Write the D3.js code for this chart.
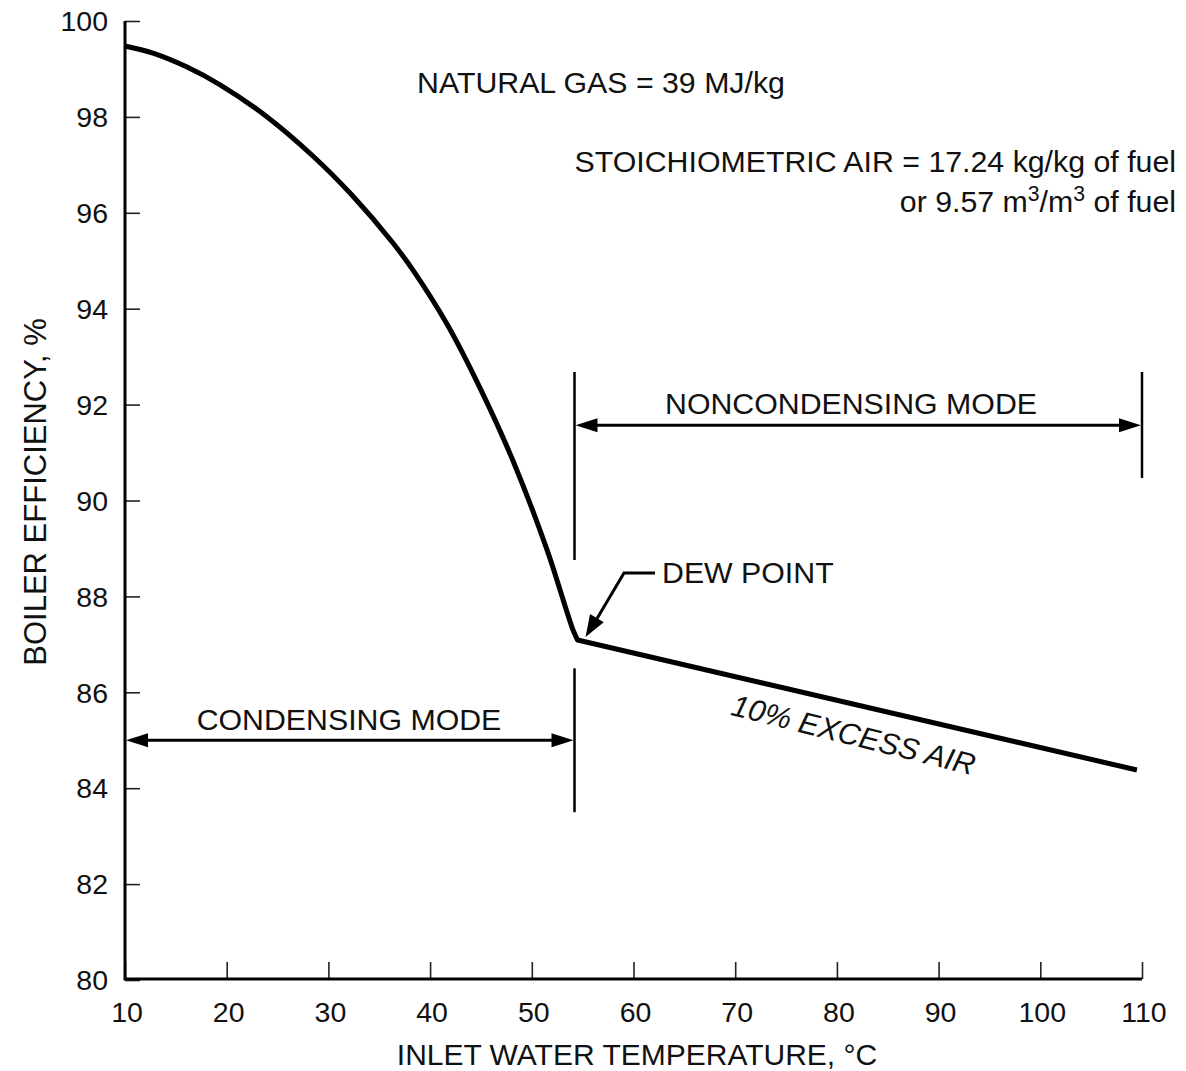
<!DOCTYPE html>
<html>
<head>
<meta charset="utf-8">
<script src="https://cdn.jsdelivr.net/npm/d3@7"></script>
<style>
  body { margin: 0; background: #fff; }
  svg { display: block; }
  text { font-family: "Liberation Sans", Arial, Helvetica, sans-serif; fill: #111; }
</style>
</head>
<body>
<div id="chart"></div>
<script>
// ---- data ----
const xTicks = [10, 20, 30, 40, 50, 60, 70, 80, 90, 100, 110];
const yTicks = [80, 82, 84, 86, 88, 90, 92, 94, 96, 98, 100];

// condensing branch (inlet water temperature °C, efficiency %)
const condTemp = [10, 12.75, 16.1, 19.35, 23.6, 28.5, 32.4, 36.35, 38.3, 41.66, 44.9, 48.15, 51.5, 54.05, 54.5];
const condEff  = [99.48, 99.33, 99.04, 98.67, 98.06, 97.18, 96.35, 95.37, 94.81, 93.68, 92.35, 90.83, 88.97, 87.3, 87.09];
// noncondensing branch
const noncondTemp = [54.5, 109.5];
const noncondEff  = [87.09, 84.38];

const dewPoint = [54.5, 87.09];
const modeSplit = 54.2;
const xMax = 110;

// ---- layout ----
const W = 1186, H = 1071;
const x0 = 125, x1 = 1142, yTop = 21, yBot = 980;
const FS = 28.5;   // tick labels
const FA = 30.3;   // annotations

const svg = d3.select("#chart").append("svg").attr("width", W).attr("height", H);

const x = d3.scaleLinear().domain([10, 110]).range([x0, x1]);
const y = d3.scaleLinear().domain([80, 100]).range([yBot, yTop]);

// axes
const yAxis = d3.axisRight(y).tickValues(yTicks).tickSize(15).tickSizeOuter(0).tickFormat("");
const gy = svg.append("g").attr("transform", `translate(${x0},0)`).call(yAxis);
const xAxis = d3.axisTop(x).tickValues(xTicks).tickSize(17).tickSizeOuter(0).tickFormat("");
const gx = svg.append("g").attr("transform", `translate(0,${yBot - 1})`).call(xAxis);
[gx, gy].forEach(g => {
  g.select(".domain").remove();
  g.selectAll(".tick line").attr("stroke", "#222").attr("stroke-width", 1.6);
});
// axis lines
svg.append("path")
  .attr("d", `M${x0},${yTop}V${yBot - 1}H${x1}`)
  .attr("fill", "none").attr("stroke", "#000").attr("stroke-width", 3);

// tick labels
svg.append("g").selectAll("text").data(yTicks).join("text")
  .attr("x", 108).attr("y", d => y(d)).attr("dy", "0.36em")
  .attr("text-anchor", "end").attr("font-size", FS).text(d => d);
svg.append("g").selectAll("text").data(xTicks).join("text")
  .attr("x", d => x(d) + 2).attr("y", 1022)
  .attr("text-anchor", "middle").attr("font-size", FS).text(d => d);

// axis titles
svg.append("text").attr("transform", `translate(46,492) rotate(-90)`)
  .attr("text-anchor", "middle").attr("font-size", 31).text("BOILER EFFICIENCY, %");
svg.append("text").attr("x", 637).attr("y", 1065)
  .attr("text-anchor", "middle").attr("font-size", 30).text("INLET WATER TEMPERATURE, °C");

// curves
const condData = condTemp.map((t, i) => [t, condEff[i]]);
const noncondData = noncondTemp.map((t, i) => [t, noncondEff[i]]);
const lineCurve = d3.line().x(d => x(d[0])).y(d => y(d[1])).curve(d3.curveCatmullRom.alpha(0.5));
const lineStraight = d3.line().x(d => x(d[0])).y(d => y(d[1]));
svg.append("path")
  .attr("d", lineCurve(condData) + lineStraight(noncondData).replace(/^M[^L]*/, ""))
  .attr("fill", "none").attr("stroke", "#000").attr("stroke-width", 5)
  .attr("stroke-linejoin", "round");

// arrow helpers
function arrowHead(tipX, tipY, ang, len = 22, half = 7) {
  const c = Math.cos(ang), s = Math.sin(ang);
  const bx = tipX - c * len, by = tipY - s * len;
  return `M${tipX},${tipY}L${bx - s * half},${by + c * half}L${bx + s * half},${by - c * half}Z`;
}
function dimArrow(xa, xb, yv) {
  const py = y(yv);
  svg.append("line").attr("x1", x(xa) + 10).attr("x2", x(xb) - 10).attr("y1", py).attr("y2", py)
    .attr("stroke", "#000").attr("stroke-width", 3);
  svg.append("path").attr("d", arrowHead(x(xa) + 1, py, Math.PI)).attr("fill", "#000");
  svg.append("path").attr("d", arrowHead(x(xb) - 1, py, 0)).attr("fill", "#000");
}
function vline(xv, ya, yb) {
  svg.append("line").attr("x1", x(xv)).attr("x2", x(xv)).attr("y1", y(ya)).attr("y2", y(yb))
    .attr("stroke", "#000").attr("stroke-width", 2.5);
}

// mode separators
vline(modeSplit, 92.68, 88.76);
vline(modeSplit, 86.5, 83.5);
vline(xMax, 92.68, 90.47);

dimArrow(modeSplit, xMax, 91.57);
dimArrow(10, modeSplit, 85.0);

svg.append("text").attr("x", 851).attr("y", 414).attr("text-anchor", "middle")
  .attr("font-size", FA).text("NONCONDENSING MODE");
svg.append("text").attr("x", 349).attr("y", 730).attr("text-anchor", "middle")
  .attr("font-size", FA).text("CONDENSING MODE");

// dew point leader
const tipX = x(dewPoint[0]) + 8, tipY = y(dewPoint[1]) - 3;
const elbowX = 624, elbowY = 573;
svg.append("path").attr("d", `M655,${elbowY}H${elbowX}L${tipX + 10},${tipY - 16}`)
  .attr("fill", "none").attr("stroke", "#000").attr("stroke-width", 3);
const ang = Math.atan2(tipY - elbowY, tipX - elbowX);
svg.append("path").attr("d", arrowHead(tipX, tipY, ang, 22, 8)).attr("fill", "#000");
svg.append("text").attr("x", 662).attr("y", 583).attr("font-size", FA).text("DEW POINT");

// excess air label
svg.append("text").attr("transform", "translate(851,745) rotate(14)")
  .attr("text-anchor", "middle").attr("font-size", FA).attr("font-style", "italic")
  .text("10% EXCESS AIR");

// notes
svg.append("text").attr("x", 601).attr("y", 93).attr("text-anchor", "middle")
  .attr("font-size", FA).text("NATURAL GAS = 39 MJ/kg");
svg.append("text").attr("x", 1176).attr("y", 172).attr("text-anchor", "end")
  .attr("font-size", FA).text("STOICHIOMETRIC AIR = 17.24 kg/kg of fuel");
const t2 = svg.append("text").attr("x", 1176).attr("y", 212).attr("text-anchor", "end").attr("font-size", FA);
t2.append("tspan").text("or 9.57 m");
t2.append("tspan").attr("dy", -11).attr("font-size", FA * 0.7).text("3");
t2.append("tspan").attr("dy", 11).text("/m");
t2.append("tspan").attr("dy", -11).attr("font-size", FA * 0.7).text("3");
t2.append("tspan").attr("dy", 11).text(" of fuel");
</script>
</body>
</html>
